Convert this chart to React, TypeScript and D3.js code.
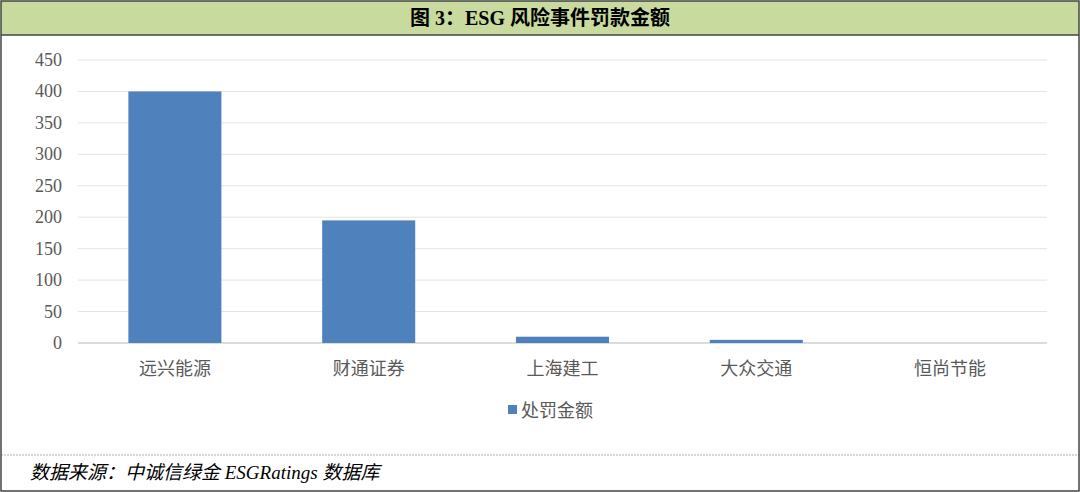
import React from "react";
import * as d3 from "d3";

const categories = ["远兴能源", "财通证券", "上海建工", "大众交通", "恒尚节能"];
const fines = [400, 195, 10, 5, 0];
const yTicks = [0, 50, 100, 150, 200, 250, 300, 350, 400, 450];
const seriesName = "处罚金额";
const title = "图 3：ESG 风险事件罚款金额";
const source = "数据来源：中诚信绿金 ESGRatings 数据库";

const W = 1080;
const H = 492;
const FONT = "'Liberation Serif', 'Noto Sans CJK SC', serif";

export default function App() {
  const x = d3.scaleBand<string>().domain(categories).range([78, 1047]).paddingInner(0.52).paddingOuter(0.26);
  const y = d3.scaleLinear().domain([0, 450]).range([343, 60]);
  return (
    <svg width={W} height={H} style={{ position: "absolute", left: 0, top: 0 }}>
      <rect x={0} y={0} width={W} height={H} fill="#ffffff" />
      <rect x={1} y={1} width={W - 2} height={34} fill="#c8da9e" />
      <text x={W / 2} y={25} textAnchor="middle" fontFamily={FONT} fontWeight="bold" fontSize={20} fill="#000">
        {title}
      </text>
      <line x1={1} x2={W - 1} y1={35} y2={35} stroke="#444" strokeWidth={1.5} />
      {yTicks.map((t) => (
        <g key={t}>
          <line x1={78} x2={1047} y1={y(t)} y2={y(t)} stroke={t === 0 ? "#d0d0d0" : "#e3e3e3"} strokeWidth={t === 0 ? 1.5 : 1} />
          <text x={62} y={y(t) + 6} textAnchor="end" fontFamily={FONT} fontSize={18} fill="#595959">
            {t}
          </text>
        </g>
      ))}
      {categories.map((c, i) => (
        <g key={c}>
          {fines[i] > 0 && (
            <rect
              x={x(c)!}
              y={y(fines[i])}
              width={x.bandwidth()}
              height={y(0) - y(fines[i])}
              fill="#4f81bd"
            />
          )}
          <text x={x(c)! + x.bandwidth() / 2} y={375} textAnchor="middle" fontFamily={FONT} fontSize={18} fill="#595959">
            {c}
          </text>
        </g>
      ))}
      <rect x={508} y={405} width={9} height={9} fill="#4f81bd" />
      <text x={521} y={417} fontFamily={FONT} fontSize={18} fill="#595959">
        {seriesName}
      </text>
      <line x1={1} x2={W - 1} y1={455} y2={455} stroke="#b0b0b0" strokeWidth={1} strokeDasharray="2,1" />
      <text x={30} y={479} fontFamily={FONT} fontStyle="italic" fontSize={19} fill="#000">
        {source}
      </text>
      <rect x={1} y={1} width={W - 2} height={H - 2} fill="none" stroke="#444" strokeWidth={1.5} />
    </svg>
  );
}
